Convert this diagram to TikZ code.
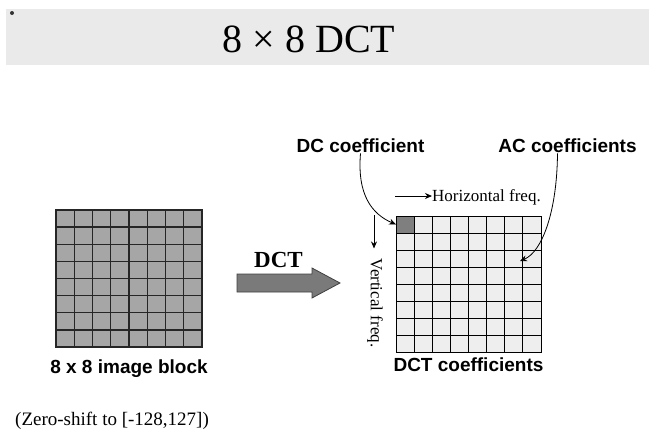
\documentclass[tikz,border=0pt]{standalone}
\usepackage{fontspec}
\setmainfont{Liberation Serif}
\setsansfont{Liberation Sans}
\usetikzlibrary{
    arrows.meta,
    positioning,
    calc
}
\definecolor{bandgray}{HTML}{EAEAEA}
\definecolor{blockgray}{HTML}{A6A6A6}
\definecolor{coefgray}{HTML}{EEEEEE}
\definecolor{dcgray}{HTML}{7F7F7F}
\definecolor{arrowgray}{HTML}{7A7A7A}
\tikzstyle{blockgrid} = [
    rectangle,
    draw=black!85,
    fill=blockgray,
    line width=1.4pt,
    minimum width=146pt,
    minimum height=137pt,
    inner sep=0pt,
    outer sep=0pt
]
\tikzstyle{coefgrid} = [
    rectangle,
    draw=black,
    fill=coefgray,
    line width=1pt,
    minimum width=145pt,
    minimum height=136pt,
    inner sep=0pt,
    outer sep=0pt
]
\tikzstyle{dccell} = [
    rectangle,
    draw=black,
    fill=dcgray,
    line width=1pt,
    minimum width=18.1pt,
    minimum height=17pt,
    inner sep=0pt,
    outer sep=0pt
]
\tikzstyle{boldlabel} = [
    font=\sffamily\bfseries\fontsize{19}{22}\selectfont,
    inner sep=1pt
]
\tikzstyle{freqlabel} = [
    font=\fontsize{17}{20}\selectfont,
    inner sep=0pt
]
\tikzstyle{pointer} = [
    -{Stealth[length=7pt,width=6pt]},
    line width=0.8pt
]
\tikzstyle{dctshape} = [
    fill=arrowgray,
    draw=black!75,
    line width=0.8pt
]

\begin{document}
\begin{tikzpicture}[x=1pt, y=-1pt]
        \useasboundingbox (0,0) rectangle (649,437);
        \fill[bandgray] (6,9) rectangle (649,65);
        \node[circle, fill=black!80, inner sep=0pt, minimum size=4pt] (dot) at (12,13) {};
        \node[anchor=base, font=\fontsize{40}{44}\selectfont] (title) at (309,52) {8 × 8 DCT};

        \node[blockgrid] (block) at (129,278.5) {};
        \node[coefgrid] (coef) at (468.5,284) {};
        \foreach \i in {1,...,7} {
            \draw[black!85, line width=1.4pt] ($(block.north west)!\i/8!(block.north east)$) -- ($(block.south west)!\i/8!(block.south east)$);
            \draw[black!85, line width=1.4pt] ($(block.north west)!\i/8!(block.south west)$) -- ($(block.north east)!\i/8!(block.south east)$);
            \draw[black, line width=1pt] ($(coef.north west)!\i/8!(coef.north east)$) -- ($(coef.south west)!\i/8!(coef.south east)$);
            \draw[black, line width=1pt] ($(coef.north west)!\i/8!(coef.south west)$) -- ($(coef.north east)!\i/8!(coef.south east)$);
        }
        \node[dccell, anchor=north west] (dc) at (coef.north west) {};

        \node[boldlabel, below=12pt of block] (blocklabel) {8 x 8 image block};
        \node[boldlabel, below=5pt of coef] (coeflabel) {DCT coefficients};

        \draw[dctshape] (237,274) -- (312,274) -- (312,268) -- (340,283) -- (312,298) -- (312,292) -- (237,292) -- cycle;
        \node[anchor=base, font=\bfseries\fontsize{23}{26}\selectfont, inner sep=0pt] (dctlabel) at (278.5,267) {DCT};

        \node[boldlabel, anchor=base] (dclabel) at (360.5,152) {DC coefficient};
        \node[boldlabel, anchor=base] (aclabel) at (567.5,152) {AC coefficients};
        \coordinate (actip) at (520,261);
        \draw[pointer] (dclabel.south) .. controls (357,195) and (372,214) .. (dc.west);
        \draw[pointer] ($(aclabel.south)+(-10,0)$) .. controls (557,212) and (542,252) .. (actip);

        \node[freqlabel, anchor=base west] (hfreq) at (432,201) {Horizontal freq.};
        \coordinate (hstart) at (395,196);
        \draw[pointer] (hstart) -- (hstart -| hfreq.west);
        \node[freqlabel, rotate=-90] (vfreq) at (375,303) {Vertical freq.};
        \coordinate (vstart) at (374,215);
        \draw[pointer, shorten >=10pt] (vstart) -- (vstart |- vfreq.west);

        \node[anchor=base west, font=\fontsize{19}{22}\selectfont, inner sep=0pt] (zeroshift) at (15,425) {(Zero-shift to [-128,127])};
    \end{tikzpicture}
\end{document}
